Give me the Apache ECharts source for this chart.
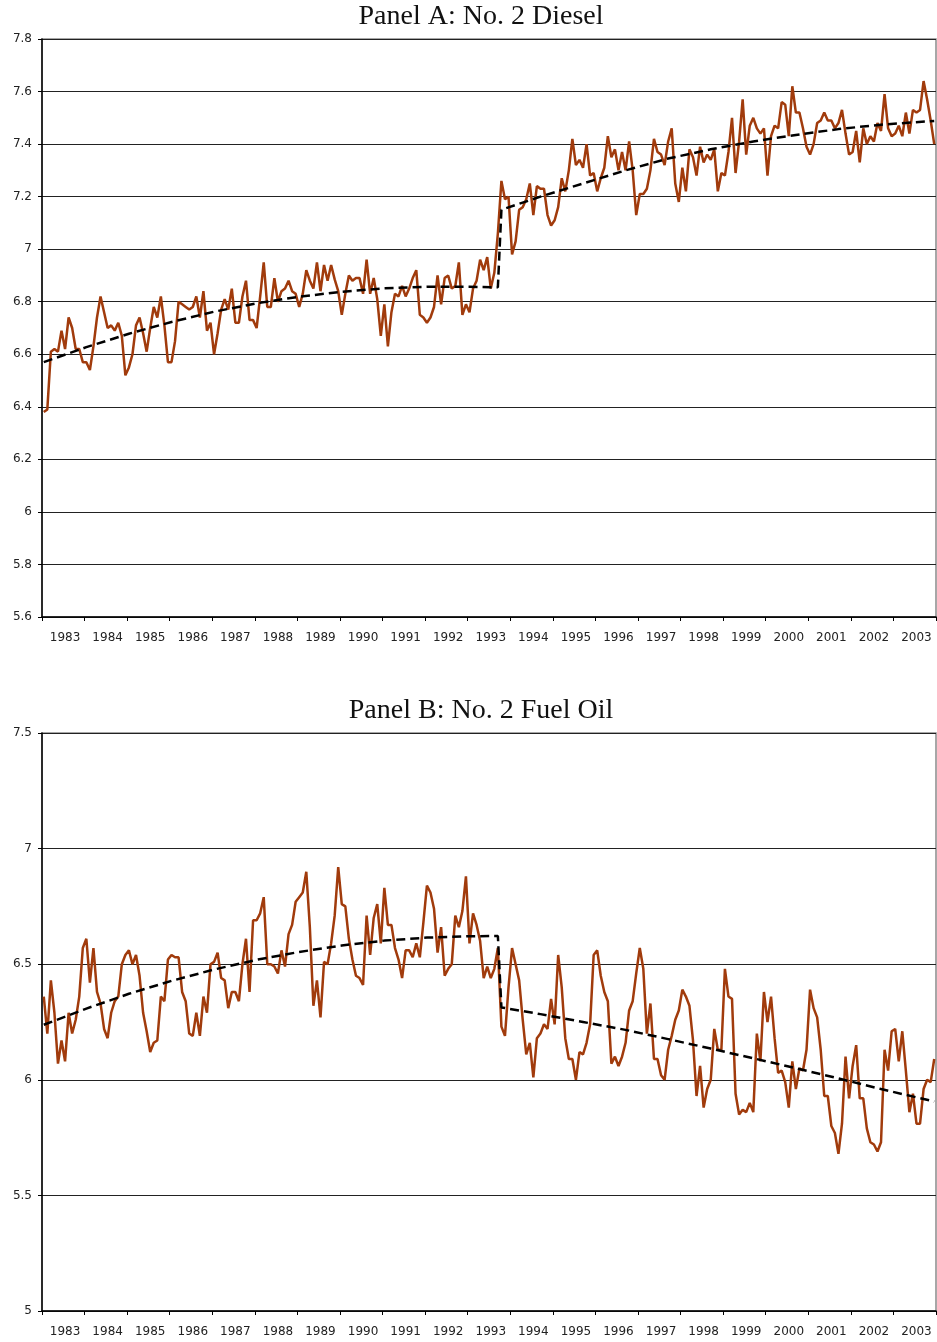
<!DOCTYPE html>
<html><head><meta charset="utf-8">
<script src="https://cdn.jsdelivr.net/npm/echarts@6/dist/echarts.min.js"></script>
<style>html,body{margin:0;padding:0;background:#fff}#c{width:937px;height:1342px}</style>
</head><body><div id="c"></div>
<script>
const years = [1983,1984,1985,1986,1987,1988,1989,1990,1991,1992,1993,1994,1995,1996,1997,1998,1999,2000,2001,2002,2003];
const months = [];
years.forEach(y => { for (let m = 1; m <= 12; m++) months.push(y + '-' + (m < 10 ? '0' : '') + m); });

const titleA = 'Panel A: No. 2 Diesel';
const titleB = 'Panel B: No. 2 Fuel Oil';

// Panel A: log price, No. 2 Diesel (monthly, Jan 1983 - Dec 2003)
const diesel = [
 6.38,6.39,6.61,6.62,6.61,6.69,6.62,6.74,6.70,6.62,6.62,6.57,
 6.57,6.54,6.63,6.74,6.82,6.76,6.70,6.71,6.69,6.72,6.67,6.52,
 6.55,6.60,6.71,6.74,6.68,6.61,6.70,6.78,6.74,6.82,6.71,6.57,
 6.57,6.65,6.80,6.79,6.78,6.77,6.78,6.82,6.74,6.84,6.69,6.72,
 6.60,6.68,6.77,6.81,6.77,6.85,6.72,6.72,6.82,6.88,6.73,6.73,
 6.70,6.82,6.95,6.78,6.78,6.89,6.80,6.84,6.85,6.88,6.84,6.83,
 6.78,6.83,6.92,6.88,6.85,6.95,6.84,6.94,6.88,6.94,6.885,6.84,
 6.75,6.83,6.90,6.88,6.89,6.89,6.83,6.96,6.83,6.89,6.81,6.67,
 6.79,6.63,6.76,6.83,6.82,6.86,6.82,6.85,6.89,6.92,6.75,6.74,
 6.72,6.74,6.78,6.90,6.79,6.89,6.90,6.85,6.86,6.95,6.75,6.79,
 6.76,6.85,6.88,6.96,6.92,6.97,6.85,6.91,7.06,7.26,7.19,7.20,
 6.98,7.03,7.15,7.16,7.19,7.25,7.13,7.24,7.23,7.23,7.13,7.09,
 7.11,7.16,7.27,7.22,7.30,7.42,7.32,7.34,7.31,7.40,7.28,7.29,
 7.22,7.27,7.31,7.43,7.35,7.38,7.30,7.37,7.30,7.41,7.30,7.13,
 7.21,7.21,7.23,7.30,7.42,7.37,7.36,7.32,7.41,7.46,7.25,7.18,
 7.31,7.22,7.38,7.35,7.28,7.39,7.33,7.36,7.34,7.38,7.22,7.29,
 7.28,7.37,7.50,7.29,7.41,7.57,7.36,7.47,7.50,7.46,7.44,7.46,
 7.28,7.43,7.47,7.46,7.56,7.55,7.43,7.62,7.52,7.52,7.46,7.39,
 7.36,7.40,7.48,7.49,7.52,7.49,7.49,7.46,7.48,7.53,7.44,7.36,
 7.37,7.45,7.33,7.46,7.40,7.43,7.41,7.48,7.45,7.59,7.46,7.43,
 7.44,7.47,7.43,7.52,7.44,7.53,7.52,7.53,7.64,7.57,7.49,7.40
];

// Panel B: log price, No. 2 Fuel Oil
const fuelOil = [
 6.36,6.20,6.43,6.29,6.07,6.17,6.08,6.29,6.20,6.26,6.36,6.57,
 6.61,6.42,6.57,6.38,6.33,6.22,6.18,6.29,6.34,6.36,6.50,6.54,
 6.56,6.50,6.54,6.45,6.29,6.21,6.12,6.16,6.17,6.36,6.34,6.52,
 6.54,6.53,6.53,6.38,6.34,6.20,6.19,6.29,6.19,6.36,6.29,6.50,
 6.51,6.55,6.44,6.43,6.31,6.38,6.38,6.34,6.50,6.61,6.38,6.69,
 6.69,6.72,6.79,6.50,6.50,6.49,6.46,6.56,6.49,6.63,6.67,6.77,
 6.79,6.81,6.90,6.66,6.32,6.43,6.27,6.51,6.50,6.59,6.71,6.92,
 6.76,6.75,6.61,6.52,6.45,6.44,6.41,6.71,6.54,6.70,6.76,6.59,
 6.83,6.67,6.67,6.57,6.52,6.44,6.56,6.56,6.53,6.59,6.53,6.68,
 6.84,6.81,6.74,6.55,6.66,6.45,6.48,6.50,6.71,6.66,6.73,6.88,
 6.59,6.72,6.67,6.60,6.44,6.49,6.44,6.48,6.57,6.23,6.19,6.40,
 6.57,6.50,6.43,6.26,6.11,6.16,6.01,6.18,6.20,6.24,6.22,6.35,
 6.24,6.54,6.40,6.18,6.09,6.09,6.00,6.12,6.11,6.16,6.24,6.54,
 6.56,6.45,6.38,6.34,6.07,6.10,6.06,6.10,6.16,6.30,6.34,6.46,
 6.57,6.48,6.20,6.33,6.09,6.09,6.02,6.00,6.13,6.19,6.26,6.30,
 6.39,6.36,6.32,6.17,5.93,6.06,5.88,5.96,6.00,6.22,6.13,6.13,
 6.48,6.36,6.35,5.94,5.85,5.87,5.86,5.90,5.86,6.20,6.08,6.38,
 6.25,6.36,6.18,6.03,6.04,5.99,5.88,6.08,5.96,6.05,6.04,6.13,
 6.39,6.31,6.27,6.13,5.93,5.93,5.80,5.77,5.68,5.81,6.10,5.92,
 6.06,6.15,5.92,5.92,5.79,5.73,5.72,5.69,5.73,6.13,6.04,6.21,
 6.22,6.08,6.21,6.04,5.86,5.94,5.81,5.81,5.96,6.00,5.99,6.09
];

// Fitted trends (dashed), read at selected months (index into months)
const dieselTrendMonth = [0,12,24,36,48,60,72,84,96,108,120,128,129,140,152,164,176,188,200,212,224,236,251];
const dieselTrendValue = [6.570,6.627,6.678,6.723,6.762,6.794,6.819,6.838,6.851,6.857,6.857,6.855,7.150,7.200,7.250,7.300,7.345,7.380,7.410,7.435,7.457,7.474,7.488];
const fuelTrendMonth = [0,12,24,36,48,60,72,84,96,108,120,128,129,140,152,164,176,188,200,212,224,236,251];
const fuelTrendValue = [6.238,6.308,6.372,6.428,6.477,6.519,6.553,6.581,6.602,6.615,6.621,6.622,6.313,6.284,6.250,6.216,6.176,6.135,6.093,6.050,6.006,5.960,5.906];

const yTicksA = {min: 5.6, max: 7.8, interval: 0.2};
const yTicksB = {min: 5.0, max: 7.5, interval: 0.5};

const lineColor = '#A13B0C';
const labelFont = {fontFamily: 'DejaVu Sans', fontSize: 12, color: '#222'};

function mkX(gi) {
  return {
    type: 'category', gridIndex: gi, data: months, boundaryGap: true,
    axisLine: {show: true, lineStyle: {color: '#000', width: 1.5}},
    axisTick: {show: true, interval: (i) => i % 12 === 0, length: 4, lineStyle: {color: '#000', width: 1}},
    axisLabel: Object.assign({interval: (i) => i % 12 === 6, formatter: (v) => v.slice(0, 4), margin: 15}, labelFont),
    splitLine: {show: false}
  };
}
function mkY(gi, t) {
  return {
    type: 'value', gridIndex: gi, min: t.min, max: t.max, interval: t.interval,
    axisLine: {show: true, lineStyle: {color: '#000', width: 1.5}},
    axisTick: {show: true, length: 4, lineStyle: {color: '#000', width: 1}},
    axisLabel: Object.assign({margin: 10}, labelFont),
    splitLine: {show: true, lineStyle: {color: '#222', width: 1}}
  };
}

const chart = echarts.init(document.getElementById('c'), null, {renderer: 'canvas'});
chart.setOption({
  animation: false,
  backgroundColor: '#fff',
  grid: [
    {left: 42, right: 1, top: 39, height: 578, show: true, borderColor: '#8a8a8a', borderWidth: 1.5, containLabel: false},
    {left: 42, right: 1, top: 733, height: 578, show: true, borderColor: '#8a8a8a', borderWidth: 1.5, containLabel: false}
  ],
  xAxis: [mkX(0), mkX(1)],
  yAxis: [mkY(0, yTicksA), mkY(1, yTicksB)],
  graphic: [
    {type: 'text', x: 481, y: 17, style: {text: titleA, x: 0, y: 0, textAlign: 'center', textVerticalAlign: 'middle', font: '28px "Liberation Serif"', fill: '#111'}},
    {type: 'text', x: 481, y: 711, style: {text: titleB, x: 0, y: 0, textAlign: 'center', textVerticalAlign: 'middle', font: '28px "Liberation Serif"', fill: '#111'}}
  ],
  series: [
    {type: 'line', xAxisIndex: 0, yAxisIndex: 0, data: diesel, showSymbol: false, lineStyle: {color: lineColor, width: 2.5}, z: 2},
    {type: 'line', xAxisIndex: 0, yAxisIndex: 0, data: dieselTrendMonth.map((m, i) => [m, dieselTrendValue[i]]), showSymbol: false, lineStyle: {color: '#000', width: 2.5, type: [9, 5]}, z: 3},
    {type: 'line', xAxisIndex: 1, yAxisIndex: 1, data: fuelOil, showSymbol: false, lineStyle: {color: lineColor, width: 2.5}, z: 2},
    {type: 'line', xAxisIndex: 1, yAxisIndex: 1, data: fuelTrendMonth.map((m, i) => [m, fuelTrendValue[i]]), showSymbol: false, lineStyle: {color: '#000', width: 2.5, type: [9, 5]}, z: 3}
  ]
});
</script></body></html>
